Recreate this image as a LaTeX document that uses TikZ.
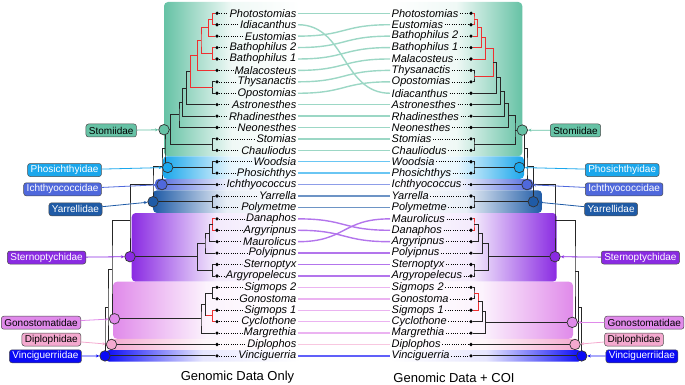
\documentclass[tikz,border=0pt]{standalone}
\usepackage{fontspec}
\setmainfont{Liberation Sans}
\usetikzlibrary{arrows.meta, calc}

\definecolor{stomc}{HTML}{66C2A5}
\definecolor{phosc}{HTML}{1AA7EC}
\definecolor{ichc}{HTML}{4F68DC}
\definecolor{yarc}{HTML}{1F5BA6}
\definecolor{sternc}{HTML}{8A2BE2}
\definecolor{gonoc}{HTML}{E08AEA}
\definecolor{diplc}{HTML}{F4A9CF}
\definecolor{vincc}{HTML}{0A0AF5}
\definecolor{topored}{HTML}{EE3030}

% y of a tip row
\newcommand{\rowy}[1]{13.3+11.42*(#1)}
% bracket: [style] name, x, upper child, lower child
\newcommand{\clade}[5][branch]{%
  \coordinate (#2m) at ($(#4)!.5!(#5)$);
  \coordinate (#2) at (#3,0 |- #2m);
  \draw[#1] (#4) -| (#2) |- (#5);}

\begin{document}
\begin{tikzpicture}[x=1pt, y=-1pt,
  taxon/.style={font=\fontsize{11}{12}\selectfont\itshape, inner sep=1.5pt},
  tip/.style={circle, fill=black, inner sep=0pt, minimum size=3.6pt},
  leader/.style={line width=0.6pt, dash pattern=on 0.6pt off 1.7pt},
  branch/.style={draw=black!85, line width=0.9pt},
  redbranch/.style={draw=topored, line width=0.9pt},
  famdot/.style={circle, draw=black!80, line width=0.7pt, minimum size=10.5pt, inner sep=0pt},
  famlabel/.style={draw=black!70, line width=0.5pt, rounded corners=2.5pt,
    font=\fontsize{10}{11}\selectfont, inner xsep=3pt, inner ysep=1.5pt, minimum height=13pt},
  famarrow/.style={-{Stealth[length=3.5pt, width=3pt]}, line width=0.8pt},
  tangle/.style={line width=1.4pt},
  famboxL/.style={rounded corners=4pt, left color=#1, right color=white, middle color=#1!10},
  famboxR/.style={rounded corners=4pt, left color=white, right color=#1, middle color=#1!10},
  title/.style={font=\fontsize{13}{15}\selectfont},
]
\useasboundingbox (0,0) rectangle (685,385);

% shaded family blocks
\shade[famboxL=stomc] (164,2) rectangle (300,156.3);
\shade[famboxL=phosc] (163,156.3) rectangle (300,178.9);
\shade[famboxL=ichc] (155,178.9) rectangle (300,190.3);
\shade[famboxL=yarc] (153,190.3) rectangle (300,213);
\shade[famboxL=sternc] (131.7,213) rectangle (300,281.7);
\shade[famboxL=gonoc] (113,281.7) rectangle (300,338.8);
\shade[famboxL=diplc] (108,338.8) rectangle (300,350.2);
\shade[famboxL=vincc] (105,350.2) rectangle (300,361.6);

\shade[famboxR=stomc] (390,2) rectangle (522.3,156.3);
\shade[famboxR=phosc] (390,156.3) rectangle (524,178.9);
\shade[famboxR=ichc] (390,178.9) rectangle (533,190.3);
\shade[famboxR=yarc] (390,190.3) rectangle (542,213);
\shade[famboxR=sternc] (390,213) rectangle (556.7,281.7);
\shade[famboxR=gonoc] (390,281.7) rectangle (573,338.8);
\shade[famboxR=diplc] (390,338.8) rectangle (578,350.2);
\shade[famboxR=vincc] (390,350.2) rectangle (582,361.6);

% left tips
\foreach \i/\name/\tag in {0/Photostomias/pho, 1/Idiacanthus/idi, 2/Eustomias/eus,
    3/Bathophilus 2/bt2, 4/Bathophilus 1/bt1, 5/Malacosteus/mal, 6/Thysanactis/thy,
    7/Opostomias/opo, 8/Astronesthes/ast, 9/Rhadinesthes/rha, 10/Neonesthes/neo,
    11/Stomias/sto, 12/Chauliodus/cha, 13/Woodsia/woo, 14/Phosichthys/phs,
    15/Ichthyococcus/ich, 16/Yarrella/yar, 17/Polymetme/pol, 18/Danaphos/dan,
    19/Argyripnus/arg, 20/Maurolicus/mau, 21/Polyipnus/pyp, 22/Sternoptyx/ste,
    23/Argyropelecus/apl, 24/Sigmops 2/sg2, 25/Gonostoma/gon, 26/Sigmops 1/sg1,
    27/Cyclothone/cyc, 28/Margrethia/mar, 29/Diplophos/dip, 30/Vinciguerria/vin}{
  \node[tip] (L\tag) at (217,{\rowy{\i}}) {};
  \node[taxon, anchor=east] (LT\tag) at (298,{\rowy{\i}}) {\name};
  \draw[leader] (L\tag) -- (LT\tag);
}

% right tips
\foreach \i/\name/\tag in {0/Photostomias/pho, 1/Eustomias/eus, 2/Bathophilus 2/bt2,
    3/Bathophilus 1/bt1, 4/Malacosteus/mal, 5/Thysanactis/thy, 6/Opostomias/opo,
    7/Idiacanthus/idi, 8/Astronesthes/ast, 9/Rhadinesthes/rha, 10/Neonesthes/neo,
    11/Stomias/sto, 12/Chauliodus/cha, 13/Woodsia/woo, 14/Phosichthys/phs,
    15/Ichthyococcus/ich, 16/Yarrella/yar, 17/Polymetme/pol, 18/Maurolicus/mau,
    19/Danaphos/dan, 20/Argyripnus/arg, 21/Polyipnus/pyp, 22/Sternoptyx/ste,
    23/Argyropelecus/apl, 24/Sigmops 2/sg2, 25/Gonostoma/gon, 26/Sigmops 1/sg1,
    27/Cyclothone/cyc, 28/Margrethia/mar, 29/Diplophos/dip, 30/Vinciguerria/vin}{
  \node[tip] (R\tag) at (471,{\rowy{\i}}) {};
  \node[taxon, anchor=west] (RT\tag) at (390,{\rowy{\i}}) {\name};
  \draw[leader] (RT\tag) -- (R\tag);
}

% tanglegram links
\foreach \tag/\col in {pho/stomc, idi/stomc, eus/stomc, bt2/stomc, bt1/stomc, mal/stomc,
    thy/stomc, opo/stomc, ast/stomc, rha/stomc, neo/stomc, sto/stomc, cha/stomc,
    woo/phosc, phs/phosc, ich/ichc, yar/yarc, pol/yarc, dan/sternc, arg/sternc,
    mau/sternc, pyp/sternc, ste/sternc, apl/sternc, sg2/gonoc, gon/gonoc, sg1/gonoc,
    cyc/gonoc, mar/gonoc, dip/diplc, vin/vincc}
  \draw[tangle, \col!65] (LT\tag.east) .. controls +(48,0) and +(-48,0) .. (RT\tag.west);

% left tree
\clade[redbranch]{Lpi}{212.7}{Lpho}{Lidi}
\clade[redbranch]{Lpie}{208.7}{Lpi}{Leus}
\clade[redbranch]{Lbb}{212.7}{Lbt2}{Lbt1}
\clade[redbranch]{Lpieb}{201}{Lpie}{Lbb}
\clade[redbranch]{Lmalc}{197.7}{Lpieb}{Lmal}
\clade{Lto}{212.7}{Lthy}{Lopo}
\clade[redbranch]{Lrr}{190.3}{Lmalc}{Lto}
\clade{Lastc}{186.7}{Lrr}{Last}
\clade{Lrhac}{182.5}{Lastc}{Lrha}
\clade{Lneoc}{179}{Lrhac}{Lneo}
\clade{Lsc}{212.7}{Lsto}{Lcha}
\clade{Lstom}{170.5}{Lneoc}{Lsc}
\clade{Lwp}{212.7}{Lwoo}{Lphs}
\clade{Lsp}{165}{Lstom}{Lwp}
\clade{Lspi}{162}{Lsp}{Lich}
\clade{Lyp}{212.7}{Lyar}{Lpol}
\clade{Lspiy}{153}{Lspi}{Lyp}
\clade[redbranch]{Lda}{212.7}{Ldan}{Larg}
\clade{Ldam}{209.3}{Lda}{Lmau}
\clade{Ldamp}{205}{Ldam}{Lpyp}
\clade{Lsa}{212.7}{Lste}{Lapl}
\clade{Lstern}{197.7}{Ldamp}{Lsa}
\clade{Lup}{130}{Lspiy}{Lstern}
\clade{Lsg}{212.7}{Lsg2}{Lgon}
\clade[redbranch]{Ls1c}{212.7}{Lsg1}{Lcyc}
\clade{Lsgsc}{205.5}{Lsg}{Ls1c}
\draw[redbranch] (Ls1c) -- (Lsgsc |- Ls1c);
\clade{Lgono}{201}{Lsgsc}{Lmar}
\clade{Lg1}{112}{Lup}{Lgono}
\clade{Lg2}{108}{Lg1}{Ldip}
\clade{Lroot}{105}{Lg2}{Lvin}

% right tree
\clade[redbranch]{Rpe}{474}{Rpho}{Reus}
\clade[redbranch]{Rpeb}{477.3}{Rpe}{Rbt2}
\clade[redbranch]{Rpebb}{481.3}{Rpeb}{Rbt1}
\clade[redbranch]{Rmalc}{485.3}{Rpebb}{Rmal}
\clade{Rto}{474}{Rthy}{Ropo}
\clade[redbranch]{Rrr}{493.3}{Rmalc}{Rto}
\clade{Ridic}{496.7}{Rrr}{Ridi}
\clade{Rastc}{500.5}{Ridic}{Rast}
\clade{Rrhac}{504.5}{Rastc}{Rrha}
\clade{Rneoc}{508.5}{Rrhac}{Rneo}
\clade{Rsc}{474}{Rsto}{Rcha}
\clade{Rstom}{515}{Rneoc}{Rsc}
\clade{Rwp}{474}{Rwoo}{Rphs}
\clade{Rsp}{524.5}{Rstom}{Rwp}
\clade{Rspi}{527}{Rsp}{Rich}
\clade{Ryp}{474}{Ryar}{Rpol}
\clade{Rspiy}{533.3}{Rspi}{Ryp}
\clade[redbranch]{Rmd}{474}{Rmau}{Rdan}
\clade{Rmda}{478.3}{Rmd}{Rarg}
\clade{Rmdap}{482.7}{Rmda}{Rpyp}
\clade{Rsa}{474}{Rste}{Rapl}
\clade{Rstern}{488.3}{Rmdap}{Rsa}
\clade{Rup}{555}{Rspiy}{Rstern}
\clade{Rsg}{474}{Rsg2}{Rgon}
\clade[redbranch]{Rsgs}{478.3}{Rsg}{Rsg1}
\clade{Rsgsc}{482.3}{Rsgs}{Rcyc}
\clade{Rgono}{485.7}{Rsgsc}{Rmar}
\clade{Rg1}{575}{Rup}{Rgono}
\clade{Rg2}{578.3}{Rg1}{Rdip}
\clade{Rroot}{581.7}{Rg2}{Rvin}

% family markers
\node[famdot, fill=stomc] (Lstomdot) at (164,0 |- Lstom) {};
\node[famdot, fill=phosc] (Lphosdot) at (167.7,0 |- Lwp) {};
\node[famdot, fill=ichc] (Lichdot) at (Lspi |- Lich) {};
\node[famdot, fill=yarc] (Lyardot) at (Lspiy |- Lyp) {};
\node[famdot, fill=sternc] (Lsterndot) at (Lup |- Lstern) {};
\node[famdot, fill=gonoc] (Lgonodot) at (114.5,0 |- Lgono) {};
\node[famdot, fill=diplc] (Ldipdot) at (111.5,0 |- Ldip) {};
\node[famdot, fill=vincc] (Lvindot) at (Lroot |- Lvin) {};

\node[famdot, fill=stomc] (Rstomdot) at (522.3,0 |- Rstom) {};
\node[famdot, fill=phosc] (Rphosdot) at (519.3,0 |- Rwp) {};
\node[famdot, fill=ichc] (Richdot) at (Rspi |- Rich) {};
\node[famdot, fill=yarc] (Ryardot) at (Rspiy |- Ryp) {};
\node[famdot, fill=sternc] (Rsterndot) at (Rup |- Rstern) {};
\node[famdot, fill=gonoc] (Rgonodot) at (572.3,0 |- Rgono) {};
\node[famdot, fill=diplc] (Rdipdot) at (575,0 |- Rdip) {};
\node[famdot, fill=vincc] (Rvindot) at (Rroot |- Rvin) {};

% family labels
\node[famlabel, fill=stomc, anchor=east] (Lstomlab) at (136.7,130.5) {Stomiidae};
\node[famlabel, fill=phosc, text=white, anchor=east] (Lphoslab) at (101.7,170) {Phosichthyidae};
\node[famlabel, fill=ichc, text=white, anchor=east] (Lichlab) at (101.7,189.3) {Ichthyococcidae};
\node[famlabel, fill=yarc, text=white, anchor=east] (Lyarlab) at (102.3,209.3) {Yarrellidae};
\node[famlabel, fill=sternc, text=white, anchor=east] (Lsternlab) at (86,257.5) {Sternoptychidae};
\node[famlabel, fill=gonoc, anchor=east] (Lgonolab) at (81,322.7) {Gonostomatidae};
\node[famlabel, fill=diplc, anchor=east] (Ldiplab) at (81,339.5) {Diplophidae};
\node[famlabel, fill=vincc, text=white, anchor=east] (Lvinlab) at (81.7,356.3) {Vinciguerriidae};

\node[famlabel, fill=stomc, anchor=west] (Rstomlab) at (550,130.5) {Stomiidae};
\node[famlabel, fill=phosc, text=white, anchor=west] (Rphoslab) at (585,170) {Phosichthyidae};
\node[famlabel, fill=ichc, text=white, anchor=west] (Richlab) at (585,189.3) {Ichthyococcidae};
\node[famlabel, fill=yarc, text=white, anchor=west] (Ryarlab) at (584.3,209.3) {Yarrellidae};
\node[famlabel, fill=sternc, text=white, anchor=west] (Rsternlab) at (601,257.5) {Sternoptychidae};
\node[famlabel, fill=gonoc, anchor=west] (Rgonolab) at (604.3,322.7) {Gonostomatidae};
\node[famlabel, fill=diplc, anchor=west] (Rdiplab) at (604.3,339.5) {Diplophidae};
\node[famlabel, fill=vincc, text=white, anchor=west] (Rvinlab) at (605.7,356.3) {Vinciguerriidae};

\foreach \fam/\col in {stom/stomc, phos/phosc, ich/ichc, yar/yarc, stern/sternc,
    gono/gonoc, dip/diplc, vin/vincc}{
  \draw[famarrow, \col] (L\fam lab) -- (L\fam dot);
  \draw[famarrow, \col] (R\fam lab) -- (R\fam dot);
}

% titles
\node[title] (ltitle) at (237.5,377.5) {Genomic Data Only};
\node[title] (rtitle) at (454,377.5) {Genomic Data + COI};

\end{tikzpicture}
\end{document}
